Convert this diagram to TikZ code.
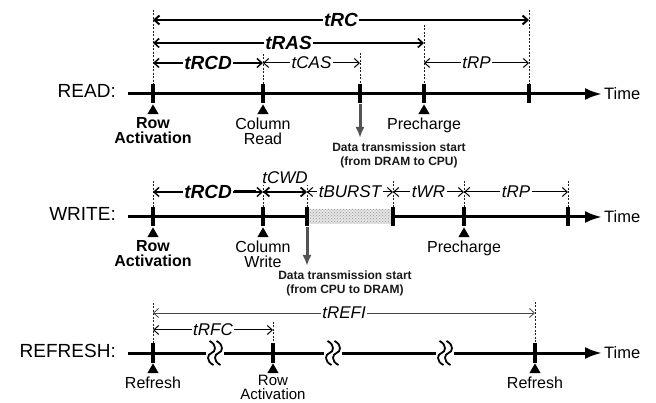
\documentclass[tikz,border=0pt]{standalone}
\usepackage{fontspec}
\setmainfont{Liberation Sans}
\usetikzlibrary{arrows.meta,positioning,shapes.geometric,patterns}

\begin{document}
\begin{tikzpicture}[x=1pt, y=-1pt,
  timeline/.style = {line width=3pt, -{Latex[length=17pt,width=12pt]}},
  tickbar/.style  = {fill=black, inner sep=0pt, minimum width=4.5pt, minimum height=19pt},
  guide/.style    = {dash pattern=on 2pt off 1.5pt, line width=1pt, gray!25!black},
  dim/.style      = {{Straight Barb[length=5pt,width=9pt]}-{Straight Barb[length=5pt,width=9pt]}, line width=1pt},
  lbl/.style      = {fill=white, inner sep=1.5pt, font=\fontsize{17}{17}\selectfont\itshape},
  bolbl/.style    = {lbl, font=\fontsize{19}{19}\selectfont\bfseries\itshape},
  evmark/.style   = {regular polygon, regular polygon sides=3, fill=black,
                     inner sep=0pt, minimum size=13pt, anchor=corner 1},
  evtext/.style   = {align=center, inner sep=0pt, font=\fontsize{16}{15}\selectfont},
  evbold/.style   = {evtext, font=\fontsize{16}{15}\selectfont\bfseries},
  rowname/.style  = {anchor=base east, inner sep=0pt, font=\fontsize{19}{19}\selectfont},
  timetext/.style = {anchor=base west, inner sep=0pt, font=\fontsize{16.5}{16.5}\selectfont},
  datarrow/.style = {line width=3pt, gray!65!black, -{Latex[length=11pt,width=9pt]}},
  datatext/.style = {align=center, inner sep=0pt, text=gray!20!black,
                     font=\fontsize{12}{14}\selectfont\bfseries},
]
\useasboundingbox (0,0) rectangle (656,403);

%% ── READ ─────────────────────────────────────────────────────────────────────
\node[rowname] (rName) at (116,98) {READ:};
\coordinate (rS) at (128,94);
\coordinate (rT) at (602,94);
\draw[timeline] (rS) -- (rT);
\node[timetext] (rTime) at (604,100) {Time};
\foreach \n/\x/\y in {A/153/10, B/263/54, C/360/53, D/424/25, E/529/10} {
  \node[tickbar] (r\n) at (\x,94) {};
  \coordinate (r\n-top) at (\x,\y);
  \draw[guide] (r\n-top) -- (r\n);
}

\coordinate (lvRC)  at (0,20);
\coordinate (lvRAS) at (0,43);
\coordinate (lvR)   at (0,63);
\draw[dim, line width=2pt]   (rA |- lvRC)  -- node[bolbl] {tRC}  (rE |- lvRC);
\draw[dim, line width=1.6pt] (rA |- lvRAS) -- node[bolbl] {tRAS} (rD |- lvRAS);
\draw[dim, line width=1.4pt] (rA |- lvR)   -- node[bolbl] {tRCD} (rB |- lvR);
\draw[dim] (rB |- lvR) -- node[lbl] {tCAS} (rC |- lvR);
\draw[dim] (rD |- lvR) -- node[lbl] {tRP}  (rE |- lvR);

\foreach \n in {A,B,D}
  \node[evmark] (r\n-mk) at ([yshift=-10pt]r\n.center) {};
\node[evbold, below=3pt of rA-mk] (rA-lb) {Row\\Activation};
\node[evtext, below=3pt of rB-mk] (rB-lb) {Column\\Read};
\node[evtext, below=3pt of rD-mk] (rD-lb) {Precharge};

\coordinate (rC-end) at (360,138);
\draw[datarrow] (rC) -- (rC-end);
\node[datatext, anchor=north] (rData) at (399,143)
  {Data transmission start\\(from DRAM to CPU)};

%% ── WRITE ────────────────────────────────────────────────────────────────────
\node[rowname] (wName) at (116,221) {WRITE:};
\coordinate (wS) at (128,217);
\coordinate (wT) at (602,217);
\draw[timeline] (wS) -- (wT);
\node[timetext] (wTime) at (604,223) {Time};
\foreach \n/\x in {A/153, B/263, C/307, D/393, E/464, F/568} {
  \node[tickbar] (w\n) at (\x,217) {};
  \coordinate (w\n-top) at (\x,181);
  \draw[guide] (w\n-top) -- (w\n);
}
% burst band
\fill[gray!20] ([yshift=8pt]wC.east) rectangle ([yshift=-7pt]wD.west);
\fill[pattern=crosshatch dots, pattern color=gray!80]
  ([yshift=8pt]wC.east) rectangle ([yshift=-7pt]wD.west);

\coordinate (lvW) at (0,192);
\coordinate (wRCD-end) at (256,192);
\draw[dim, line width=1.4pt] (wA |- lvW) -- node[bolbl] (wRCD) {tRCD} (wB |- lvW);
\draw[line width=3pt] (wRCD.east) -- (wRCD-end);
\draw[dim, line width=1.8pt] (wB |- lvW) -- node[lbl, above=6pt] {tCWD} (wC |- lvW);
\draw[dim] (wC |- lvW) -- node[lbl] {tBURST} (wD |- lvW);
\draw[dim] (wD |- lvW) -- node[lbl] {tWR}    (wE |- lvW);
\draw[dim] (wE |- lvW) -- node[lbl] {tRP}    (wF |- lvW);

\foreach \n in {A,B,E}
  \node[evmark] (w\n-mk) at ([yshift=-10pt]w\n.center) {};
\node[evbold, below=3pt of wA-mk] (wA-lb) {Row\\Activation};
\node[evtext, below=3pt of wB-mk] (wB-lb) {Column\\Write};
\node[evtext, below=3pt of wE-mk] (wE-lb) {Precharge};

\coordinate (wC-end) at (307,266);
\draw[datarrow] (wC) -- (wC-end);
\node[datatext, anchor=north] (wData) at (345,271)
  {Data transmission start\\(from CPU to DRAM)};

%% ── REFRESH ──────────────────────────────────────────────────────────────────
\node[rowname] (fName) at (116,357) {REFRESH:};
\coordinate (fS) at (128,353);
\coordinate (fT) at (602,353);
\draw[timeline] (fS) -- (fT);
\node[timetext] (fTime) at (604,359) {Time};
\foreach \n/\x/\y in {A/153/303, B/273/322, C/535/302} {
  \node[tickbar] (f\n) at (\x,353) {};
  \coordinate (f\n-top) at (\x,\y);
  \draw[guide] (f\n-top) -- (f\n);
}
% time breaks
\foreach \bx in {215,333,445} {
  \fill[white] (\bx-9,343) rectangle (\bx+9,363);
  \foreach \dx in {-3.5,3.5}
    \draw[line width=1.8pt]
      (\bx+\dx-2,341) .. controls (\bx+\dx+6,345) and (\bx+\dx+4,352) .. (\bx+\dx,353)
      .. controls (\bx+\dx-4,354) and (\bx+\dx-6,361) .. (\bx+\dx+2,365);
}

\coordinate (lvREFI) at (0,313);
\coordinate (lvRFC)  at (0,330);
\draw[dim, line width=0.8pt, gray!55!black] (fA |- lvREFI) -- node[lbl, text=black] {tREFI} (fC |- lvREFI);
\draw[dim] (fA |- lvRFC) -- node[lbl] {tRFC} (fB |- lvRFC);

\foreach \n in {A,B,C}
  \node[evmark] (f\n-mk) at ([yshift=-10pt]f\n.center) {};
\node[evtext, below=3pt of fA-mk] (fA-lb) {Refresh};
\node[evtext, below=2pt of fB-mk, font=\fontsize{15}{14}\selectfont] (fB-lb) {Row\\Activation};
\node[evtext, below=3pt of fC-mk] (fC-lb) {Refresh};

\end{tikzpicture}
\end{document}
